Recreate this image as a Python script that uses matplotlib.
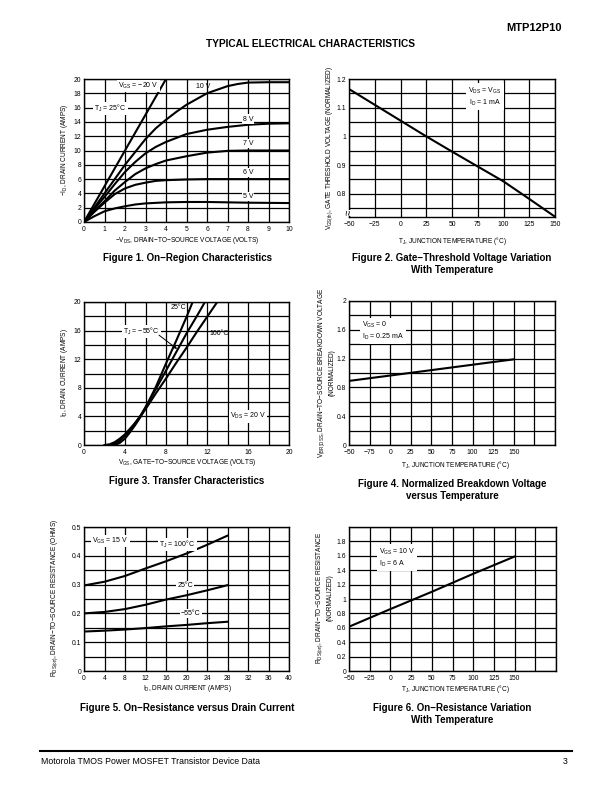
import matplotlib
matplotlib.use("Agg")
import matplotlib.pyplot as plt
import numpy as np

plt.rcParams['font.family'] = ['Liberation Sans', 'DejaVu Sans']
plt.rcParams['mathtext.default'] = 'regular'
plt.rcParams['axes.unicode_minus'] = True

# ---- Figure 1: on-region characteristics (-VDS vs -ID) ----
f1_vgs_labels = ['V$_{GS}$ = −20 V', '10 V', '8 V', '7 V', '6 V', '5 V']
f1_x_20 = [0, 1, 2, 3, 4.0]
f1_y_20 = [0, 5.0, 10.0, 15.0, 20.0]
f1_x_10 = [0, 0.5, 1, 1.5, 2, 2.5, 3, 3.5, 4, 4.5, 5, 5.5, 6, 6.5, 7, 7.5, 8, 9, 10]
f1_y_10 = [0, 2.0, 4.0, 6.0, 8.0, 9.8, 11.6, 13.1, 14.3, 15.4, 16.4, 17.2, 18.0, 18.5, 19.0, 19.3, 19.5, 19.55, 19.55]
f1_x_8 = [0, 0.5, 1, 1.5, 2, 2.5, 3, 3.5, 4, 5, 6, 7, 8, 9, 10]
f1_y_8 = [0, 1.8, 3.5, 5.3, 7.0, 8.4, 9.6, 10.5, 11.2, 12.3, 12.9, 13.3, 13.6, 13.75, 13.8]
f1_x_7 = [0, 0.5, 1, 1.5, 2, 2.5, 3, 3.5, 4, 5, 6, 7, 8, 10]
f1_y_7 = [0, 1.5, 2.9, 4.4, 5.6, 6.7, 7.5, 8.1, 8.6, 9.2, 9.7, 9.95, 10.0, 10.0]
f1_x_6 = [0, 0.5, 1, 1.5, 2, 2.5, 3, 3.5, 4, 5, 6, 10]
f1_y_6 = [0, 1.4, 2.7, 3.9, 4.7, 5.2, 5.5, 5.75, 5.85, 5.95, 6.0, 6.0]
f1_x_5 = [0, 0.5, 1, 1.5, 2, 2.5, 3, 4, 5, 6, 8, 10]
f1_y_5 = [0, 0.8, 1.5, 1.9, 2.2, 2.45, 2.6, 2.75, 2.8, 2.8, 2.7, 2.65]

# ---- Figure 2: gate threshold vs temperature ----
f2_temp = [-50, -25, 0, 25, 50, 75, 100, 125, 150]
f2_vth = [1.165, 1.11, 1.055, 1.0, 0.947, 0.895, 0.843, 0.782, 0.72]

# ---- Figure 3: transfer characteristics ----
f3_x_a = [3.0, 3.5, 4, 4.5, 5, 5.5, 6, 7, 8, 9, 10, 10.6]
f3_y_a = [0, 0.3, 0.9, 1.8, 2.8, 3.9, 5.2, 8.1, 11.4, 14.6, 17.9, 20]
f3_x_b = [2.5, 3, 3.5, 4, 4.5, 5, 5.5, 6, 7, 8, 9, 10, 11, 11.8]
f3_y_b = [0, 0.2, 0.6, 1.3, 2.1, 3.1, 4.1, 5.3, 7.8, 10.4, 13.0, 15.6, 18.0, 20]
f3_x_c = [2.0, 2.5, 3, 3.5, 4, 4.5, 5, 5.5, 6, 7, 8, 9, 10, 11, 12, 13]
f3_y_c = [0, 0.1, 0.4, 0.9, 1.5, 2.3, 3.1, 4.0, 5.0, 7.2, 9.3, 11.5, 13.6, 15.8, 17.9, 20]

# ---- Figure 4: breakdown voltage vs temperature ----
f4_temp = [-50, 0, 50, 100, 150]
f4_bv = [0.89, 0.965, 1.04, 1.115, 1.19]
f4_xlabels = ['−50', '−75', '0', '25', '50', '75', '100', '125', '150', '', '']

# ---- Figure 5: on-resistance vs drain current ----
f5_id = [0, 4, 8, 12, 16, 20, 24, 28]
f5_r100 = [0.297, 0.31, 0.33, 0.356, 0.381, 0.408, 0.438, 0.47]
f5_r25 = [0.2, 0.205, 0.215, 0.23, 0.248, 0.263, 0.28, 0.298]
f5_rm55 = [0.137, 0.14, 0.144, 0.149, 0.155, 0.16, 0.166, 0.171]

# ---- Figure 6: on-resistance vs temperature ----
f6_temp = [-50, 0, 50, 100, 150]
f6_r = [0.615, 0.86, 1.1, 1.35, 1.59]

W, H = 612, 792
fig = plt.figure(figsize=(W / 100, H / 100), dpi=100)

TICK = 4.9
LBL = 4.7
ANN = 5
CAP = 7
LW = 1.5
box = dict(facecolor='white', edgecolor='none', pad=0.8)


def place(l, t, r, b):
    ax = fig.add_axes([l / W, 1 - b / H, (r - l) / W, (b - t) / H])
    for s in ax.spines.values():
        s.set_linewidth(1.0)
    ax.tick_params(length=0, labelsize=TICK, pad=2)
    ax.tick_params(axis='x', pad=2.8)
    ax.grid(True, color='black', lw=0.9)
    ax.set_axisbelow(True)
    return ax


def ftext(x, y, s, **kw):
    fig.text(x / W, 1 - y / H, s, **kw)


def lab(vals, keep):
    return [('%g' % v).replace('-', '−') if keep(i) else '' for i, v in enumerate(vals)]


# header / footer
ftext(562, 28, 'MTP12P10', ha='right', va='center', fontsize=8, fontweight='bold')
ftext(310, 44, 'TYPICAL ELECTRICAL CHARACTERISTICS', ha='center', va='center', fontsize=7.3, fontweight='bold')
fig.add_artist(plt.Line2D([40 / W, 572 / W], [1 - 751 / H, 1 - 751 / H], color='black', lw=1.5))
ftext(41, 761, 'Motorola TMOS Power MOSFET Transistor Device Data', ha='left', va='center', fontsize=6.3)
ftext(568, 761, '3', ha='right', va='center', fontsize=6.3)

# Figure 1
ax = place(84, 79, 289, 222)
for xs, ys in [(f1_x_20, f1_y_20), (f1_x_10, f1_y_10), (f1_x_8, f1_y_8),
               (f1_x_7, f1_y_7), (f1_x_6, f1_y_6), (f1_x_5, f1_y_5)]:
    ax.plot(xs, ys, color='black', lw=LW, solid_capstyle='butt')
ax.set_xlim(0, 10)
ax.set_ylim(0, 20)
xt = np.arange(0, 11, 1)
yt = np.arange(0, 21, 2)
ax.set_xticks(xt)
ax.set_xticklabels(lab(xt, lambda i: True))
ax.set_yticks(yt)
ax.set_yticklabels(lab(yt, lambda i: True))
ax.text(2.65, 19.0, f1_vgs_labels[0], ha='center', va='center', fontsize=ANN, bbox=box)
ax.text(5.8, 19.0, f1_vgs_labels[1], ha='center', va='center', fontsize=ANN)
ax.text(1.3, 15.9, 'T$_J$ = 25°C', ha='center', va='center', fontsize=ANN, bbox=box)
for s, yy in zip(f1_vgs_labels[2:], [14.4, 11.0, 6.9, 3.6]):
    ax.text(8.0, yy, s, ha='center', va='center', fontsize=ANN, bbox=box)
ftext(187, 240, '−V$_{DS}$, DRAIN−TO−SOURCE VOLTAGE (VOLTS)', ha='center', va='center', fontsize=LBL)
ftext(64, 150, '−I$_D$, DRAIN CURRENT (AMPS)', ha='center', va='center', rotation=90, fontsize=LBL)
ftext(187, 258, 'Figure 1. On−Region Characteristics', ha='center', va='center', fontsize=CAP, fontweight='bold')

# Figure 2
ax = place(349, 79, 555, 217)
ax.plot(f2_temp, f2_vth, color='black', lw=LW)
ax.set_xlim(-50, 150)
ax.set_ylim(0.719, 1.2)
xt = np.arange(-50, 151, 25)
yt = np.round(np.arange(0.75, 1.201, 0.05), 2)
ax.set_xticks(xt)
ax.set_xticklabels(lab(xt, lambda i: True))
ax.set_yticks(yt)
ax.set_yticklabels(lab(yt, lambda i: i % 2 == 1))
ax.text(82, 1.138, 'V$_{DS}$ = V$_{GS}$\nI$_D$ = 1 mA', ha='center', va='center', fontsize=ANN,
        linespacing=1.3, bbox=dict(facecolor='white', edgecolor='none', pad=1.5))
ax.text(-50, 0.734, '≈', ha='center', va='center', rotation=90, fontsize=7,
        bbox=dict(facecolor='white', edgecolor='none', pad=0.2))
ftext(452, 241, 'T$_J$, JUNCTION TEMPERATURE (°C)', ha='center', va='center', fontsize=LBL)
ftext(330, 148, 'V$_{GS(th)}$, GATE THRESHOLD VOLTAGE (NORMALIZED)', ha='center', va='center', rotation=90, fontsize=LBL)
ftext(452, 258, 'Figure 2. Gate−Threshold Voltage Variation', ha='center', va='center', fontsize=CAP, fontweight='bold')
ftext(452, 270, 'With Temperature', ha='center', va='center', fontsize=CAP, fontweight='bold')

# Figure 3
ax = place(84, 302, 289, 445)
for xs, ys in [(f3_x_a, f3_y_a), (f3_x_b, f3_y_b), (f3_x_c, f3_y_c)]:
    ax.plot(xs, ys, color='black', lw=LW)
ax.set_xlim(0, 20)
ax.set_ylim(0, 20)
xt = np.arange(0, 21, 2)
ax.set_xticks(xt)
ax.set_xticklabels(lab(xt, lambda i: i % 2 == 0))
ax.set_yticks(xt)
ax.set_yticklabels(lab(xt, lambda i: i % 2 == 0))
ax.text(9.2, 19.2, '25°C', ha='center', va='center', fontsize=ANN)
ax.text(5.6, 15.9, 'T$_J$ = −55°C', ha='center', va='center', fontsize=ANN, bbox=box)
ax.annotate('', xy=(9.3, 13.2), xytext=(7.1, 15.6),
            arrowprops=dict(arrowstyle='-|>', color='black', lw=0.7, mutation_scale=6))
ax.text(13.2, 15.6, '100°C', ha='center', va='center', fontsize=ANN)
ax.text(16.0, 4.0, 'V$_{DS}$ = 20 V', ha='center', va='center', fontsize=ANN, bbox=box)
ftext(187, 463, 'V$_{GS}$, GATE−TO−SOURCE VOLTAGE (VOLTS)', ha='center', va='center', fontsize=LBL)
ftext(64, 373, 'I$_D$, DRAIN CURRENT (AMPS)', ha='center', va='center', rotation=90, fontsize=LBL)
ftext(187, 481, 'Figure 3. Transfer Characteristics', ha='center', va='center', fontsize=CAP, fontweight='bold')

# Figure 4
ax = place(349, 301, 555, 445)
ax.plot(f4_temp, f4_bv, color='black', lw=LW)
ax.set_xlim(-50, 200)
ax.set_ylim(0, 2)
xt = np.arange(-50, 201, 25)
yt = np.round(np.arange(0, 2.01, 0.2), 1)
ax.set_xticks(xt)
ax.set_xticklabels(f4_xlabels)
ax.set_yticks(yt)
ax.set_yticklabels(lab(yt, lambda i: i % 2 == 0))
ax.text(-34, 1.585, 'V$_{GS}$ = 0\nI$_D$ = 0.25 mA', ha='left', va='center', fontsize=ANN,
        linespacing=1.3, bbox=dict(facecolor='white', edgecolor='none', pad=1.5))
ftext(455, 465, 'T$_J$, JUNCTION TEMPERATURE (°C)', ha='center', va='center', fontsize=LBL)
ftext(322, 373, 'V$_{(BR)DSS}$, DRAIN−TO−SOURCE BREAKDOWN VOLTAGE', ha='center', va='center', rotation=90, fontsize=LBL)
ftext(332, 373, '(NORMALIZED)', ha='center', va='center', rotation=90, fontsize=LBL)
ftext(452, 484, 'Figure 4. Normalized Breakdown Voltage', ha='center', va='center', fontsize=CAP, fontweight='bold')
ftext(452, 496, 'versus Temperature', ha='center', va='center', fontsize=CAP, fontweight='bold')

# Figure 5
ax = place(84, 527, 289, 671)
for ys in [f5_r100, f5_r25, f5_rm55]:
    ax.plot(f5_id, ys, color='black', lw=LW)
ax.set_xlim(0, 40)
ax.set_ylim(0, 0.5)
xt = np.arange(0, 41, 4)
yt = np.round(np.arange(0, 0.501, 0.05), 2)
ax.set_xticks(xt)
ax.set_xticklabels(lab(xt, lambda i: True))
ax.set_yticks(yt)
ax.set_yticklabels(lab(yt, lambda i: i % 2 == 0))
ax.text(5.2, 0.452, 'V$_{GS}$ = 15 V', ha='center', va='center', fontsize=ANN, bbox=box)
ax.text(18.2, 0.44, 'T$_J$ = 100°C', ha='center', va='center', fontsize=ANN, bbox=box)
ax.text(19.7, 0.298, '25°C', ha='center', va='center', fontsize=ANN, bbox=box)
ax.text(20.8, 0.2, '−55°C', ha='center', va='center', fontsize=ANN, bbox=box)
ftext(187, 689, 'I$_D$, DRAIN CURRENT (AMPS)', ha='center', va='center', fontsize=LBL)
ftext(55, 598, 'R$_{DS(on)}$, DRAIN−TO−SOURCE RESISTANCE (OHMS)', ha='center', va='center', rotation=90, fontsize=LBL)
ftext(187, 708, 'Figure 5. On−Resistance versus Drain Current', ha='center', va='center', fontsize=CAP, fontweight='bold')

# Figure 6
ax = place(349, 527, 556, 671)
ax.plot(f6_temp, f6_r, color='black', lw=LW)
ax.set_xlim(-50, 200)
ax.set_ylim(0, 2)
xt = np.arange(-50, 201, 25)
yt = np.round(np.arange(0, 2.01, 0.2), 1)
ax.set_xticks(xt)
ax.set_xticklabels(lab(xt, lambda i: i <= 8))
ax.set_yticks(yt)
ax.set_yticklabels(lab(yt, lambda i: i <= 9))
ax.text(-14, 1.575, 'V$_{GS}$ = 10 V\nI$_D$ = 6 A', ha='left', va='center', fontsize=ANN,
        linespacing=1.3, bbox=dict(facecolor='white', edgecolor='none', pad=1.5))
ftext(455, 689, 'T$_J$, JUNCTION TEMPERATURE (°C)', ha='center', va='center', fontsize=LBL)
ftext(320, 598, 'R$_{DS(on)}$, DRAIN−TO−SOURCE RESISTANCE', ha='center', va='center', rotation=90, fontsize=LBL)
ftext(330, 598, '(NORMALIZED)', ha='center', va='center', rotation=90, fontsize=LBL)
ftext(452, 708, 'Figure 6. On−Resistance Variation', ha='center', va='center', fontsize=CAP, fontweight='bold')
ftext(452, 720, 'With Temperature', ha='center', va='center', fontsize=CAP, fontweight='bold')

fig.savefig('out.png', dpi=100, facecolor='white')
